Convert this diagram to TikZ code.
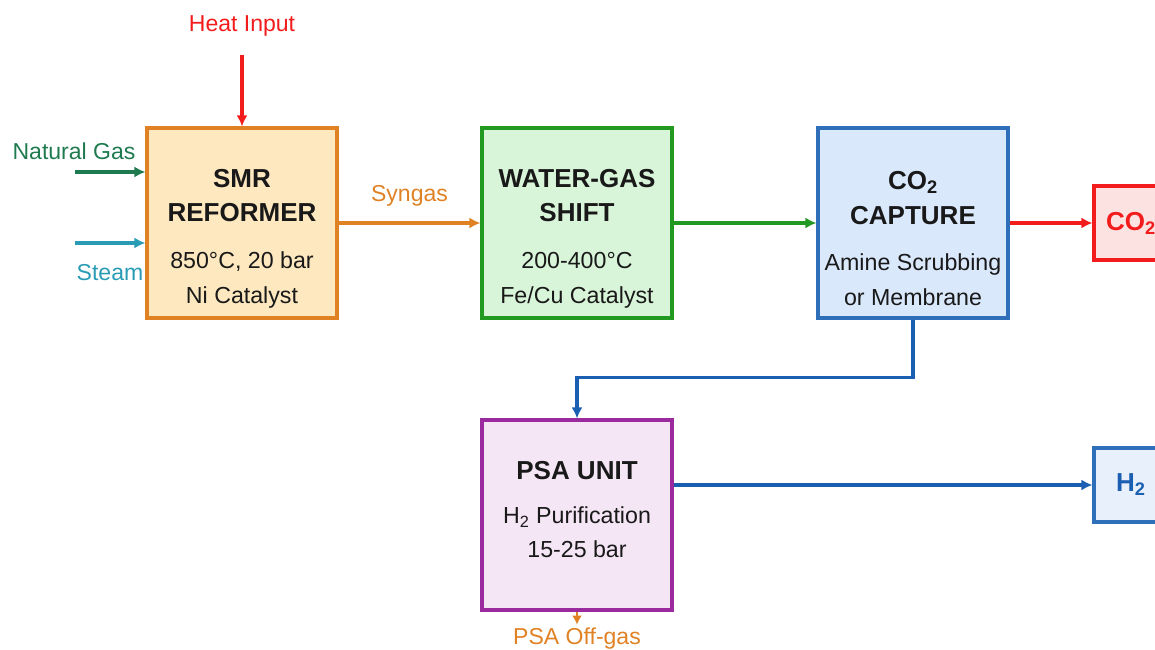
\documentclass[tikz,border=0pt]{standalone}
\usepackage{fontspec}
\setmainfont{Liberation Sans}
\usetikzlibrary{arrows.meta,positioning,calc}
\definecolor{smrline}{HTML}{E08224}
\definecolor{smrfill}{HTML}{FDE8BF}
\definecolor{wgsline}{HTML}{229A22}
\definecolor{wgsfill}{HTML}{D9F5D9}
\definecolor{capline}{HTML}{2F6EB8}
\definecolor{capfill}{HTML}{DAE8FC}
\definecolor{psaline}{HTML}{9A2A9E}
\definecolor{psafill}{HTML}{F5E6F5}
\definecolor{ventred}{HTML}{F21C1C}
\definecolor{ventfill}{HTML}{FDE2E2}
\definecolor{prodfill}{HTML}{E8F0FC}
\definecolor{pipeblue}{HTML}{1B5FB3}
\definecolor{gasgreen}{HTML}{1F7A4F}
\definecolor{steamteal}{HTML}{2A9BB5}
\newcommand{\ttl}[1]{{\fontsize{14.8}{19.8}\selectfont\bfseries #1}}
\newcommand{\toppad}{\rule{0pt}{28pt}}
\tikzset{unit/.style={draw=#1,line width=1.8pt,minimum size=3.8cm,inner sep=0pt,align=center,text=black!90,font=\fontsize{13.2}{19.8}\selectfont},outlet/.style={draw=#1,line width=1.8pt,minimum size=1.48cm,inner sep=0pt,font=\fontsize{14.8}{16}\selectfont\bfseries,text=#1},pipe/.style={-{Latex[length=2.2mm,width=2.2mm]},line width=2pt},tag/.style={font=\fontsize{13.1}{15}\selectfont}}

\begin{document}
\begin{tikzpicture}
\useasboundingbox (0,0) rectangle (23.1,-13);
\node[unit=smrline,fill=smrfill] (smr) at (4.84,-4.46) {\toppad\ttl{SMR}\\\ttl{REFORMER}\\[6.8pt]850°C, 20 bar\\Ni Catalyst};
\node[unit=wgsline,fill=wgsfill] (wgs) at (11.54,-4.46) {\toppad\ttl{WATER-GAS}\\\ttl{SHIFT}\\[6.8pt]200-400°C\\Fe/Cu Catalyst};
\node[unit=capline,fill=capfill] (cap) at (18.26,-4.46) {\toppad\ttl{CO\textsubscript{2}}\\\ttl{CAPTURE}\\[6.8pt]Amine Scrubbing\\or Membrane};
\node[unit=psaline,fill=psafill] (psa) at (11.54,-10.30) {\ttl{PSA UNIT}\\[5pt]H\textsubscript{2} Purification\\15-25 bar\rule[-6pt]{0pt}{6pt}};
\node[outlet=ventred,fill=ventfill] (co2) at (22.62,-4.46) {CO\textsubscript{2}};
\node[outlet=capline,fill=prodfill,text=pipeblue] (h2) at (22.62,-9.70) {H\textsubscript{2}};
% feeds
\coordinate (heat) at (4.84,-1.1);
\coordinate (ng) at (1.5,-3.44);
\coordinate (stm) at (1.5,-4.86);
\node[tag,text=ventred] (heatlbl) at (4.84,-0.52) {Heat Input};
\node[tag,text=gasgreen] (nglbl) at (1.48,-3.02) {Natural Gas};
\node[tag,text=steamteal] (stmlbl) at (2.2,-5.46) {Steam};
\draw[pipe,ventred] (heat)--(smr.north);
\draw[pipe,gasgreen] (ng)--(ng-|smr.west);
\draw[pipe,steamteal] (stm)--(stm-|smr.west);
% main line
\draw[pipe,smrline] (smr.east)--node[above=0.18cm,tag,text=smrline] (syn) {Syngas}(wgs.west);
\draw[pipe,wgsline] (wgs.east)--(cap.west);
\draw[pipe,ventred] (cap.east)--(co2.west);
\draw[pipe,pipeblue] (cap.south)--++(0,-1.16)-|(psa.north);
\draw[pipe,pipeblue] (h2.west-|psa.east)--(h2.west);
\draw[pipe,smrline,line width=1.6pt,-{Latex[length=1.8mm,width=2mm]}] (psa.south)--++(0,-0.26) node[below=-2pt,tag,text=smrline] (off) {PSA Off-gas};
\end{tikzpicture}
\end{document}
